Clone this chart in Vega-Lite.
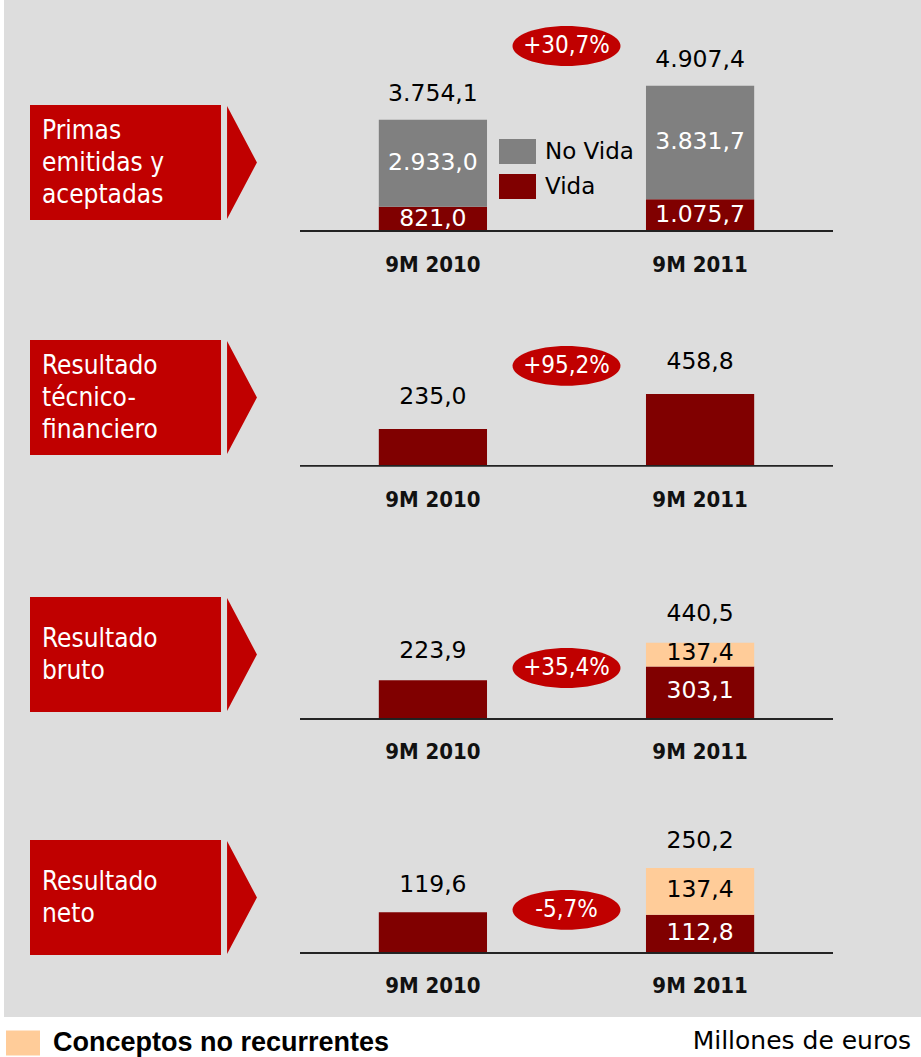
{
  "$schema": "https://vega.github.io/schema/vega-lite/v6.json",
  "background": "#dddddd",
  "padding": 0,
  "spacing": 0,
  "resolve": {"scale": {"color": "independent"}, "legend": {"color": "independent"}},
  "config": {
    "view": {"stroke": null},
    "concat": {"spacing": 0},
    "axis": {"grid": false},
    "text": {"font": "DejaVu Sans"},
    "locale": {"number": {"decimal": ",", "thousands": ".", "grouping": [3], "currency": ["", " €"], "minus": "-"}}
  },
  "vconcat": [
    {"spacing": 0, "hconcat": [
      {"width": 4, "height": 300, "view": {"fill": "#ffffff", "stroke": null}, "data": {"values": []}, "mark": "point"},
      {
      "spacing": 42,
      "resolve": {"scale": {"color": "independent"}, "legend": {"color": "independent"}},
      "hconcat": [
        {"spacing": 0, "vconcat": [
          {"width": 1, "height": 105, "data": {"values": []}, "mark": "point"},
          {"spacing": 6, "hconcat": [
            {"width": 20, "height": 115, "data": {"values": []}, "mark": "point"},
            {"width": 191, "height": 115, "view": {"fill": "#c00000", "stroke": null},
             "data": {"values": [{"etiqueta": "Primas\nemitidas y\naceptadas"}]},
             "mark": {"type": "text", "align": "left", "baseline": "middle", "lineBreak": "\n", "lineHeight": 32, "font": "DejaVu Sans Condensed, DejaVu Sans", "fontSize": 26, "color": "white", "dx": 12, "dy": -32},
             "encoding": {"x": {"datum": 0, "type": "quantitative", "scale": {"domain": [0, 1]}, "axis": null}, "text": {"field": "etiqueta"}}},
            {"width": 30, "height": 115, "data": {"values": [{"forma": "flecha"}]},
             "mark": {"type": "point", "shape": "M-0.26,-0.983L0.26,0L-0.26,0.983Z", "size": 13225, "filled": true, "color": "#c00000", "opacity": 1, "strokeWidth": 0},
             "encoding": {}}
          ]}
        ]},
        {
          "width": 533, "height": 300,
          "data": {"values": [
            {"periodo": "9M 2010", "componente": "Vida", "valor": 821.04},
            {"periodo": "9M 2010", "componente": "No Vida", "valor": 2933.04},
            {"periodo": "9M 2011", "componente": "Vida", "valor": 1075.7},
            {"periodo": "9M 2011", "componente": "No Vida", "valor": 3831.7}
          ]},
          "encoding": {"x": {"field": "periodo", "type": "nominal", "scale": {"domain": ["9M 2010", "Δ", "9M 2011"], "paddingInner": 0.19, "paddingOuter": 0.59}, "axis": null}},
          "layer": [
            {"transform": [{"stack": "valor", "groupby": ["periodo"], "sort": [{"field": "componente", "order": "descending"}], "as": ["v0", "v1"]}],
             "mark": {"type": "bar"},
             "encoding": {
               "y": {"field": "v1", "type": "quantitative", "scale": {"domain": [-2330, 7800], "nice": false, "zero": false}, "axis": null},
               "y2": {"field": "v0"},
               "color": {"field": "componente", "type": "nominal", "scale": {"domain": ["No Vida", "Vida"], "range": ["#808080", "#800000"]},
                 "legend": {"title": null, "orient": "none", "legendX": 199, "legendY": 133, "direction": "vertical", "padding": 0, "symbolType": "M-1,-0.676H1V0.676H-1Z", "symbolSize": 1369, "symbolStrokeWidth": 0, "labelFont": "DejaVu Sans", "labelFontSize": 23, "labelColor": "#000000", "labelOffset": 9, "rowPadding": 3}}
             }},
            {"mark": {"type": "rule", "color": "#222222", "strokeWidth": 1.5},
             "encoding": {"x": null, "y": {"datum": 0, "type": "quantitative", "axis": null}}},
            {"transform": [{"aggregate": [{"op": "count", "as": "n"}], "groupby": ["periodo"]}],
             "mark": {"type": "text", "baseline": "alphabetic", "dy": 41, "font": "DejaVu Sans Condensed, DejaVu Sans", "fontWeight": "bold", "fontSize": 22, "color": "#111111"},
             "encoding": {"y": {"datum": 0, "type": "quantitative", "axis": null}, "text": {"field": "periodo"}}},
            {"transform": [
               {"stack": "valor", "groupby": ["periodo"], "sort": [{"field": "componente", "order": "descending"}], "as": ["v0", "v1"]},
               {"joinaggregate": [{"op": "count", "as": "n"}], "groupby": ["periodo"]},
               {"filter": "datum.n > 1"},
               {"fold": ["v0", "v1"], "as": ["extremo", "pos"]}
             ],
             "mark": {"type": "text", "baseline": "middle", "fontSize": 23.5, "font": "DejaVu Sans"},
             "encoding": {
               "y": {"aggregate": "mean", "field": "pos", "type": "quantitative", "axis": null},
               "text": {"field": "valor", "type": "quantitative", "format": ",.1f"},
               "detail": {"field": "componente"},
               "color": {"condition": {"test": "datum.componente === 'Conceptos no recurrentes'", "value": "#000000"}, "value": "#ffffff"}
             }},
            {"mark": {"type": "text", "baseline": "alphabetic", "dy": -19, "fontSize": 23.5, "font": "DejaVu Sans", "color": "#000000"},
             "encoding": {
               "y": {"aggregate": "sum", "field": "valor", "type": "quantitative", "axis": null},
               "text": {"aggregate": "sum", "field": "valor", "type": "quantitative", "format": ",.1f"}
             }},
            {"data": {"values": [{"periodo": "Δ", "variacion": 0.307}]},
             "mark": {"type": "point", "shape": "M-1,0A1,0.37,0,1,1,1,0A1,0.37,0,1,1,-1,0Z", "size": 11664, "filled": true, "color": "#c00000", "opacity": 1, "strokeWidth": 0},
             "encoding": {"y": {"datum": 6250, "type": "quantitative", "axis": null}}},
            {"data": {"values": [{"periodo": "Δ", "variacion": 0.307}]},
             "mark": {"type": "text", "baseline": "middle", "fontSize": 24, "font": "DejaVu Sans Condensed, DejaVu Sans", "color": "#ffffff"},
             "encoding": {"y": {"datum": 6250, "type": "quantitative", "axis": null}, "text": {"field": "variacion", "type": "quantitative", "format": "+.1%"}}}
          ]
        }
      ]
    }]},
    {"spacing": 0, "hconcat": [
      {"width": 4, "height": 230, "view": {"fill": "#ffffff", "stroke": null}, "data": {"values": []}, "mark": "point"},
      {
      "spacing": 42,
      "hconcat": [
        {"spacing": 0, "vconcat": [
          {"width": 1, "height": 40, "data": {"values": []}, "mark": "point"},
          {"spacing": 6, "hconcat": [
            {"width": 20, "height": 115, "data": {"values": []}, "mark": "point"},
            {"width": 191, "height": 115, "view": {"fill": "#c00000", "stroke": null},
             "data": {"values": [{"etiqueta": "Resultado\ntécnico-\nfinanciero"}]},
             "mark": {"type": "text", "align": "left", "baseline": "middle", "lineBreak": "\n", "lineHeight": 32, "font": "DejaVu Sans Condensed, DejaVu Sans", "fontSize": 26, "color": "white", "dx": 12, "dy": -32},
             "encoding": {"x": {"datum": 0, "type": "quantitative", "scale": {"domain": [0, 1]}, "axis": null}, "text": {"field": "etiqueta"}}},
            {"width": 30, "height": 115, "data": {"values": [{"forma": "flecha"}]},
             "mark": {"type": "point", "shape": "M-0.26,-0.983L0.26,0L-0.26,0.983Z", "size": 13225, "filled": true, "color": "#c00000", "opacity": 1, "strokeWidth": 0},
             "encoding": {}}
          ]}
        ]},
        {
          "width": 533, "height": 230,
          "data": {"values": [
            {"periodo": "9M 2010", "componente": "Resultado técnico-financiero", "valor": 235.0},
            {"periodo": "9M 2011", "componente": "Resultado técnico-financiero", "valor": 458.8}
          ]},
          "encoding": {"x": {"field": "periodo", "type": "nominal", "scale": {"domain": ["9M 2010", "Δ", "9M 2011"], "paddingInner": 0.19, "paddingOuter": 0.59}, "axis": null}},
          "layer": [
            {"mark": {"type": "bar", "color": "#800000"},
             "encoding": {"y": {"field": "valor", "type": "quantitative", "scale": {"domain": [-410, 1060], "nice": false, "zero": false}, "axis": null}}},
            {"mark": {"type": "rule", "color": "#222222", "strokeWidth": 1.5},
             "encoding": {"x": null, "y": {"datum": 0, "type": "quantitative", "axis": null}}},
            {"mark": {"type": "text", "baseline": "alphabetic", "dy": 41, "font": "DejaVu Sans Condensed, DejaVu Sans", "fontWeight": "bold", "fontSize": 22, "color": "#111111"},
             "encoding": {"y": {"datum": 0, "type": "quantitative", "axis": null}, "text": {"field": "periodo"}}},
            {"mark": {"type": "text", "baseline": "alphabetic", "dy": -25, "fontSize": 23.5, "font": "DejaVu Sans", "color": "#000000"},
             "encoding": {"y": {"field": "valor", "type": "quantitative", "axis": null}, "text": {"field": "valor", "type": "quantitative", "format": ",.1f"}}},
            {"data": {"values": [{"periodo": "Δ", "variacion": 0.952}]},
             "mark": {"type": "point", "shape": "M-1,0A1,0.37,0,1,1,1,0A1,0.37,0,1,1,-1,0Z", "size": 11664, "filled": true, "color": "#c00000", "opacity": 1, "strokeWidth": 0},
             "encoding": {"y": {"datum": 639, "type": "quantitative", "axis": null}}},
            {"data": {"values": [{"periodo": "Δ", "variacion": 0.952}]},
             "mark": {"type": "text", "baseline": "middle", "fontSize": 24, "font": "DejaVu Sans Condensed, DejaVu Sans", "color": "#ffffff"},
             "encoding": {"y": {"datum": 639, "type": "quantitative", "axis": null}, "text": {"field": "variacion", "type": "quantitative", "format": "+.1%"}}}
          ]
        }
      ]
    }]},
    {"spacing": 0, "hconcat": [
      {"width": 4, "height": 250, "view": {"fill": "#ffffff", "stroke": null}, "data": {"values": []}, "mark": "point"},
      {
      "spacing": 42,
      "resolve": {"scale": {"color": "independent"}, "legend": {"color": "independent"}},
      "hconcat": [
        {"spacing": 0, "vconcat": [
          {"width": 1, "height": 67, "data": {"values": []}, "mark": "point"},
          {"spacing": 6, "hconcat": [
            {"width": 20, "height": 115, "data": {"values": []}, "mark": "point"},
            {"width": 191, "height": 115, "view": {"fill": "#c00000", "stroke": null},
             "data": {"values": [{"etiqueta": "Resultado\nbruto"}]},
             "mark": {"type": "text", "align": "left", "baseline": "middle", "lineBreak": "\n", "lineHeight": 32, "font": "DejaVu Sans Condensed, DejaVu Sans", "fontSize": 26, "color": "white", "dx": 12, "dy": -16},
             "encoding": {"x": {"datum": 0, "type": "quantitative", "scale": {"domain": [0, 1]}, "axis": null}, "text": {"field": "etiqueta"}}},
            {"width": 30, "height": 115, "data": {"values": [{"forma": "flecha"}]},
             "mark": {"type": "point", "shape": "M-0.26,-0.983L0.26,0L-0.26,0.983Z", "size": 13225, "filled": true, "color": "#c00000", "opacity": 1, "strokeWidth": 0},
             "encoding": {}}
          ]}
        ]},
        {
          "width": 533, "height": 250,
          "data": {"values": [
            {"periodo": "9M 2010", "componente": "Recurrente", "valor": 223.9},
            {"periodo": "9M 2011", "componente": "Recurrente", "valor": 303.1},
            {"periodo": "9M 2011", "componente": "Conceptos no recurrentes", "valor": 137.4}
          ]},
          "encoding": {"x": {"field": "periodo", "type": "nominal", "scale": {"domain": ["9M 2010", "Δ", "9M 2011"], "paddingInner": 0.19, "paddingOuter": 0.59}, "axis": null}},
          "layer": [
            {"transform": [{"stack": "valor", "groupby": ["periodo"], "sort": [{"field": "componente", "order": "descending"}], "as": ["v0", "v1"]}],
             "mark": {"type": "bar"},
             "encoding": {
               "y": {"field": "v1", "type": "quantitative", "scale": {"domain": [-353, 1093], "nice": false, "zero": false}, "axis": null},
               "y2": {"field": "v0"},
               "color": {"field": "componente", "type": "nominal", "scale": {"domain": ["Recurrente", "Conceptos no recurrentes"], "range": ["#800000", "#ffcc99"]}, "legend": null}
             }},
            {"mark": {"type": "rule", "color": "#222222", "strokeWidth": 1.5},
             "encoding": {"x": null, "y": {"datum": 0, "type": "quantitative", "axis": null}}},
            {"transform": [{"aggregate": [{"op": "count", "as": "n"}], "groupby": ["periodo"]}],
             "mark": {"type": "text", "baseline": "alphabetic", "dy": 40, "font": "DejaVu Sans Condensed, DejaVu Sans", "fontWeight": "bold", "fontSize": 22, "color": "#111111"},
             "encoding": {"y": {"datum": 0, "type": "quantitative", "axis": null}, "text": {"field": "periodo"}}},
            {"transform": [
               {"stack": "valor", "groupby": ["periodo"], "sort": [{"field": "componente", "order": "descending"}], "as": ["v0", "v1"]},
               {"joinaggregate": [{"op": "count", "as": "n"}], "groupby": ["periodo"]},
               {"filter": "datum.n > 1"},
               {"fold": ["v0", "v1"], "as": ["extremo", "pos"]}
             ],
             "mark": {"type": "text", "baseline": "middle", "dy": -2, "fontSize": 23.5, "font": "DejaVu Sans"},
             "encoding": {
               "y": {"aggregate": "mean", "field": "pos", "type": "quantitative", "axis": null},
               "text": {"field": "valor", "type": "quantitative", "format": ",.1f"},
               "detail": {"field": "componente"},
               "color": {"condition": {"test": "datum.componente === 'Conceptos no recurrentes'", "value": "#000000"}, "value": "#ffffff"}
             }},
            {"mark": {"type": "text", "baseline": "alphabetic", "dy": -22, "fontSize": 23.5, "font": "DejaVu Sans", "color": "#000000"},
             "encoding": {
               "y": {"aggregate": "sum", "field": "valor", "type": "quantitative", "axis": null},
               "text": {"aggregate": "sum", "field": "valor", "type": "quantitative", "format": ",.1f"}
             }},
            {"data": {"values": [{"periodo": "Δ", "variacion": 0.354}]},
             "mark": {"type": "point", "shape": "M-1,0A1,0.37,0,1,1,1,0A1,0.37,0,1,1,-1,0Z", "size": 11664, "filled": true, "color": "#c00000", "opacity": 1, "strokeWidth": 0},
             "encoding": {"y": {"datum": 295, "type": "quantitative", "axis": null}}},
            {"data": {"values": [{"periodo": "Δ", "variacion": 0.354}]},
             "mark": {"type": "text", "baseline": "middle", "fontSize": 24, "font": "DejaVu Sans Condensed, DejaVu Sans", "color": "#ffffff"},
             "encoding": {"y": {"datum": 295, "type": "quantitative", "axis": null}, "text": {"field": "variacion", "type": "quantitative", "format": "+.1%"}}}
          ]
        }
      ]
    }]},
    {"spacing": 0, "hconcat": [
      {"width": 4, "height": 237, "view": {"fill": "#ffffff", "stroke": null}, "data": {"values": []}, "mark": "point"},
      {
      "spacing": 42,
      "resolve": {"scale": {"color": "independent"}, "legend": {"color": "independent"}},
      "hconcat": [
        {"spacing": 0, "vconcat": [
          {"width": 1, "height": 60, "data": {"values": []}, "mark": "point"},
          {"spacing": 6, "hconcat": [
            {"width": 20, "height": 115, "data": {"values": []}, "mark": "point"},
            {"width": 191, "height": 115, "view": {"fill": "#c00000", "stroke": null},
             "data": {"values": [{"etiqueta": "Resultado\nneto"}]},
             "mark": {"type": "text", "align": "left", "baseline": "middle", "lineBreak": "\n", "lineHeight": 32, "font": "DejaVu Sans Condensed, DejaVu Sans", "fontSize": 26, "color": "white", "dx": 12, "dy": -16},
             "encoding": {"x": {"datum": 0, "type": "quantitative", "scale": {"domain": [0, 1]}, "axis": null}, "text": {"field": "etiqueta"}}},
            {"width": 30, "height": 115, "data": {"values": [{"forma": "flecha"}]},
             "mark": {"type": "point", "shape": "M-0.26,-0.983L0.26,0L-0.26,0.983Z", "size": 13225, "filled": true, "color": "#c00000", "opacity": 1, "strokeWidth": 0},
             "encoding": {}}
          ]}
        ]},
        {
          "width": 533, "height": 237,
          "data": {"values": [
            {"periodo": "9M 2010", "componente": "Recurrente", "valor": 119.6},
            {"periodo": "9M 2011", "componente": "Recurrente", "valor": 112.8},
            {"periodo": "9M 2011", "componente": "Conceptos no recurrentes", "valor": 137.4}
          ]},
          "encoding": {"x": {"field": "periodo", "type": "nominal", "scale": {"domain": ["9M 2010", "Δ", "9M 2011"], "paddingInner": 0.19, "paddingOuter": 0.59}, "axis": null}},
          "layer": [
            {"transform": [{"stack": "valor", "groupby": ["periodo"], "sort": [{"field": "componente", "order": "descending"}], "as": ["v0", "v1"]}],
             "mark": {"type": "bar"},
             "encoding": {
               "y": {"field": "v1", "type": "quantitative", "scale": {"domain": [-189, 510], "nice": false, "zero": false}, "axis": null},
               "y2": {"field": "v0"},
               "color": {"field": "componente", "type": "nominal", "scale": {"domain": ["Recurrente", "Conceptos no recurrentes"], "range": ["#800000", "#ffcc99"]}, "legend": null}
             }},
            {"mark": {"type": "rule", "color": "#222222", "strokeWidth": 1.5},
             "encoding": {"x": null, "y": {"datum": 0, "type": "quantitative", "axis": null}}},
            {"transform": [{"aggregate": [{"op": "count", "as": "n"}], "groupby": ["periodo"]}],
             "mark": {"type": "text", "baseline": "alphabetic", "dy": 40, "font": "DejaVu Sans Condensed, DejaVu Sans", "fontWeight": "bold", "fontSize": 22, "color": "#111111"},
             "encoding": {"y": {"datum": 0, "type": "quantitative", "axis": null}, "text": {"field": "periodo"}}},
            {"transform": [
               {"stack": "valor", "groupby": ["periodo"], "sort": [{"field": "componente", "order": "descending"}], "as": ["v0", "v1"]},
               {"joinaggregate": [{"op": "count", "as": "n"}], "groupby": ["periodo"]},
               {"filter": "datum.n > 1"},
               {"fold": ["v0", "v1"], "as": ["extremo", "pos"]}
             ],
             "mark": {"type": "text", "baseline": "middle", "dy": -1, "fontSize": 23.5, "font": "DejaVu Sans"},
             "encoding": {
               "y": {"aggregate": "mean", "field": "pos", "type": "quantitative", "axis": null},
               "text": {"field": "valor", "type": "quantitative", "format": ",.1f"},
               "detail": {"field": "componente"},
               "color": {"condition": {"test": "datum.componente === 'Conceptos no recurrentes'", "value": "#000000"}, "value": "#ffffff"}
             }},
            {"mark": {"type": "text", "baseline": "alphabetic", "dy": -20, "fontSize": 23.5, "font": "DejaVu Sans", "color": "#000000"},
             "encoding": {
               "y": {"aggregate": "sum", "field": "valor", "type": "quantitative", "axis": null},
               "text": {"aggregate": "sum", "field": "valor", "type": "quantitative", "format": ",.1f"}
             }},
            {"data": {"values": [{"periodo": "Δ", "variacion": -0.057}]},
             "mark": {"type": "point", "shape": "M-1,0A1,0.37,0,1,1,1,0A1,0.37,0,1,1,-1,0Z", "size": 11664, "filled": true, "color": "#c00000", "opacity": 1, "strokeWidth": 0},
             "encoding": {"y": {"datum": 127, "type": "quantitative", "axis": null}}},
            {"data": {"values": [{"periodo": "Δ", "variacion": -0.057}]},
             "mark": {"type": "text", "baseline": "middle", "fontSize": 24, "font": "DejaVu Sans Condensed, DejaVu Sans", "color": "#ffffff"},
             "encoding": {"y": {"datum": 127, "type": "quantitative", "axis": null}, "text": {"field": "variacion", "type": "quantitative", "format": "+.1%"}}}
          ]
        }
      ]
    }]},
    {
      "width": 921, "height": 40,
      "view": {"fill": "#ffffff", "stroke": null},
      "layer": [
        {"data": {"values": [{"serie": "Conceptos no recurrentes"}]},
         "mark": {"type": "point", "shape": "M0,0L0,0", "filled": true, "strokeWidth": 0},
         "encoding": {"color": {"field": "serie", "type": "nominal", "scale": {"range": ["#ffcc99"]},
           "legend": {"title": null, "orient": "none", "legendX": 6, "legendY": 9, "padding": 0, "symbolType": "M-1,-0.735H1V0.735H-1Z", "symbolSize": 1156, "symbolStrokeWidth": 0, "symbolOpacity": 1, "symbolFillColor": "#ffcc99", "labelFont": "Liberation Sans", "labelFontWeight": "bold", "labelFontSize": 27, "labelColor": "#000000", "labelOffset": 13, "labelLimit": 600}}}},
        {"data": {"values": [{"nota": "Millones de euros"}]},
         "mark": {"type": "text", "align": "right", "baseline": "alphabetic", "dx": -10, "dy": 12, "font": "DejaVu Sans", "fontSize": 25, "color": "#000000"},
         "encoding": {"x": {"datum": 1, "type": "quantitative", "scale": {"domain": [0, 1]}, "axis": null}, "text": {"field": "nota"}}}
      ]
    }
  ]
}
